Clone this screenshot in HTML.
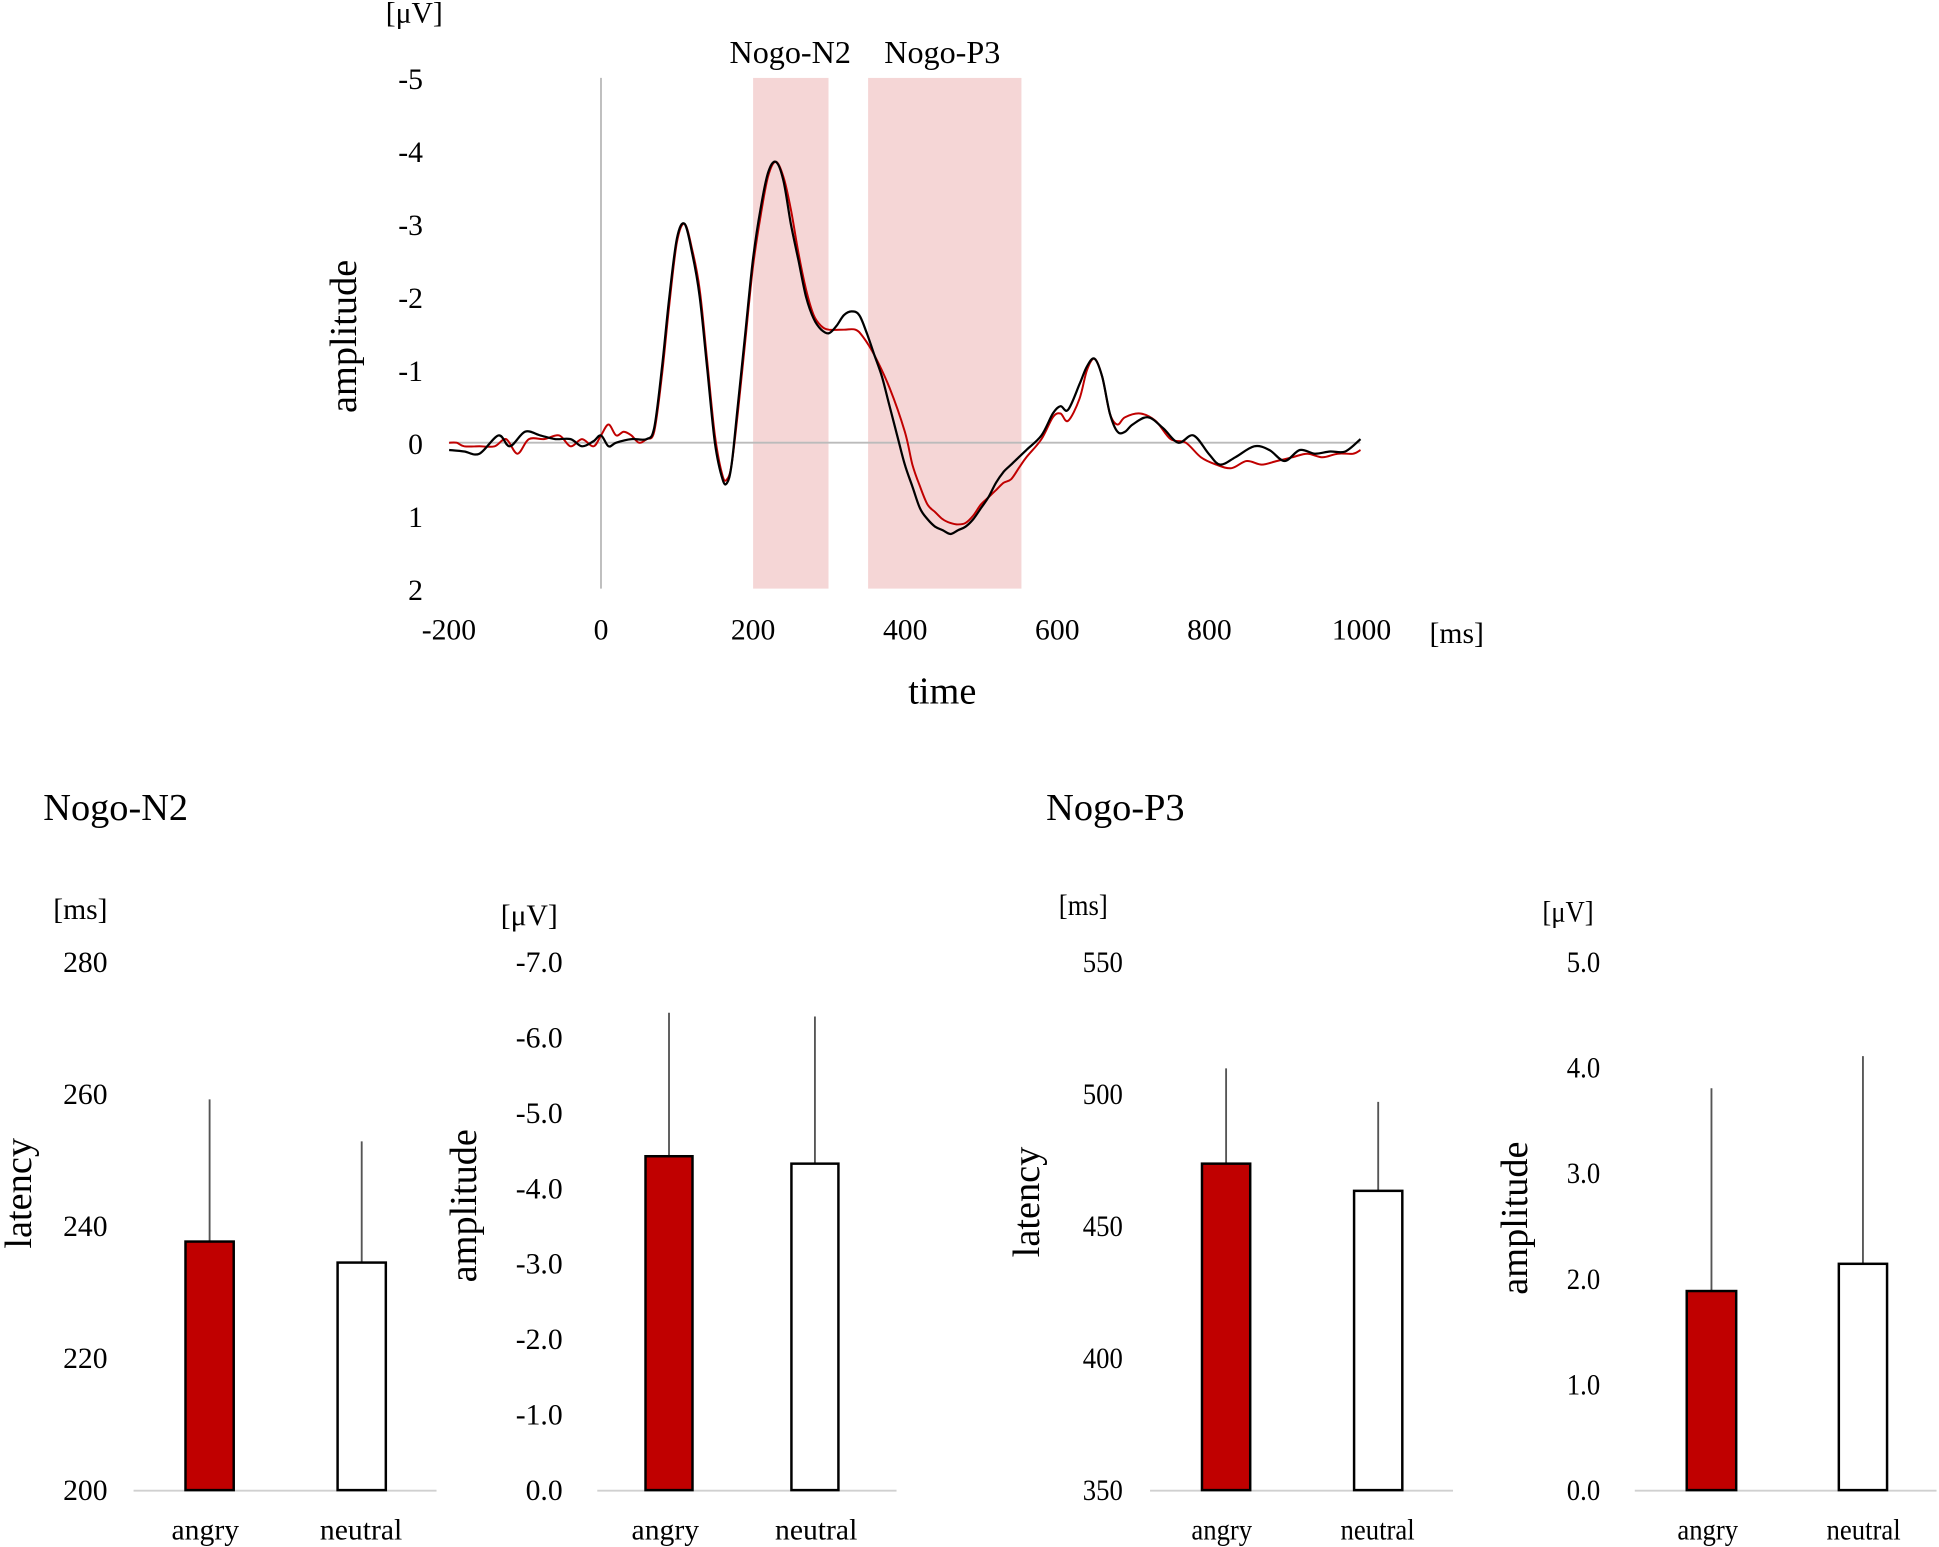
<!DOCTYPE html>
<html><head><meta charset="utf-8"><style>
html,body{margin:0;padding:0;background:#fff;}
svg{display:block;font-family:"Liberation Serif",serif;}
</style></head><body>
<svg id="s" width="1939" height="1547" viewBox="0 0 1568 1251" xmlns="http://www.w3.org/2000/svg">
<rect x="609" y="63" width="61" height="413" fill="#f5d6d6"/>
<rect x="702" y="63" width="124" height="413" fill="#f5d6d6"/>
<line x1="486" y1="63" x2="486" y2="476" stroke="#bbb" stroke-width="1.5"/>
<line x1="363" y1="358" x2="1100" y2="358" stroke="#bbb" stroke-width="1.5"/>
<g font-size="24" text-anchor="end">
<text x="342" y="72">-5</text><text x="342" y="131">-4</text><text x="342" y="190">-3</text>
<text x="342" y="249">-2</text><text x="342" y="308">-1</text><text x="342" y="367">0</text>
<text x="342" y="426">1</text><text x="342" y="485">2</text>
</g>
<g font-size="24" text-anchor="middle">
<text x="363" y="517">-200</text><text x="486" y="517">0</text><text x="609" y="517">200</text>
<text x="732" y="517">400</text><text x="855" y="517">600</text><text x="978" y="517">800</text>
<text x="1101" y="517">1000</text>
</g>
<text x="1178" y="520" font-size="24" text-anchor="middle">[ms]</text>
<text x="335" y="18" font-size="24" text-anchor="middle">[μV]</text>
<text x="762" y="569" font-size="31" text-anchor="middle">time</text>
<text transform="translate(288,272) rotate(-90)" font-size="31" text-anchor="middle">amplitude</text>
<text x="639" y="51" font-size="26" text-anchor="middle">Nogo-N2</text>
<text x="762" y="51" font-size="26" text-anchor="middle">Nogo-P3</text>
<path id="red" fill="none" stroke="#c00000" stroke-width="1.6"/>
<path id="blk" fill="none" stroke="#000" stroke-width="1.8"/>

<text x="35" y="663" font-size="31">Nogo-N2</text>
<text x="846" y="663" font-size="31">Nogo-P3</text>

<g id="bars"></g>
</svg>
<script>
function X(t){return 486+t*0.6142;}function Y(v){return 358+v*59;}
function path(pts){var p=pts.map(function(a){return [X(a[0]),Y(a[1])];});
var d="M"+p[0][0].toFixed(1)+","+p[0][1].toFixed(1);
for(var i=0;i<p.length-1;i++){var p0=p[i-1]||p[i],p1=p[i],p2=p[i+1],p3=p[i+2]||p2;
var c1x=p1[0]+(p2[0]-p0[0])/6,c1y=p1[1]+(p2[1]-p0[1])/6,c2x=p2[0]-(p3[0]-p1[0])/6,c2y=p2[1]-(p3[1]-p1[1])/6;
d+=" C"+c1x.toFixed(1)+","+c1y.toFixed(1)+" "+c2x.toFixed(1)+","+c2y.toFixed(1)+" "+p2[0].toFixed(1)+","+p2[1].toFixed(1);}
return d;}
var blk=[[-200,0.1],[-180,0.12],[-160,0.15],[-135,-0.1],[-120,0.05],[-100,-0.15],[-80,-0.1],[-60,-0.05],[-40,-0.05],[-25,0.05],[-10,-0.02],[0,-0.1],[10,0.05],[20,0.0],[40,-0.05],[60,-0.05],[70,-0.2],[80,-1],[90,-2],[100,-2.8],[110,-3.0],[120,-2.6],[130,-2.0],[140,-1.0],[150,0.0],[160,0.5],[166,0.55],[172,0.3],[180,-0.5],[190,-1.5],[200,-2.5],[210,-3.2],[220,-3.7],[230,-3.85],[240,-3.6],[250,-3.0],[260,-2.5],[270,-2.0],[280,-1.7],[290,-1.55],[300,-1.5],[310,-1.6],[320,-1.75],[330,-1.8],[340,-1.75],[350,-1.5],[360,-1.2],[370,-0.9],[380,-0.5],[390,-0.1],[400,0.3],[410,0.6],[420,0.9],[430,1.05],[440,1.15],[450,1.2],[460,1.25],[470,1.2],[480,1.15],[490,1.05],[500,0.9],[510,0.75],[520,0.55],[530,0.4],[540,0.3],[550,0.2],[560,0.1],[580,-0.1],[595,-0.4],[605,-0.5],[615,-0.45],[630,-0.8],[640,-1.05],[650,-1.15],[660,-0.9],[670,-0.4],[680,-0.15],[690,-0.15],[700,-0.25],[720,-0.35],[740,-0.2],[760,0.0],[780,-0.1],[800,0.15],[815,0.3],[835,0.2],[860,0.05],[880,0.1],[900,0.25],[920,0.1],[940,0.15],[960,0.12],[980,0.12],[1000,-0.05]];
var red=[[-200,0.0],[-190,0.0],[-180,0.05],[-160,0.05],[-140,0.05],[-125,-0.05],[-110,0.15],[-95,-0.05],[-75,-0.05],[-55,-0.1],[-40,0.05],[-25,-0.05],[-10,0.05],[0,-0.1],[10,-0.25],[20,-0.1],[30,-0.15],[40,-0.1],[50,0.0],[60,-0.05],[70,-0.15],[80,-0.9],[90,-1.9],[100,-2.75],[110,-3.0],[120,-2.65],[130,-2.1],[140,-1.1],[150,-0.1],[160,0.45],[166,0.5],[172,0.3],[180,-0.4],[190,-1.4],[200,-2.4],[210,-3.1],[220,-3.65],[230,-3.85],[240,-3.65],[250,-3.2],[260,-2.6],[270,-2.1],[280,-1.75],[290,-1.6],[300,-1.55],[320,-1.55],[335,-1.55],[345,-1.45],[360,-1.2],[380,-0.75],[400,-0.15],[410,0.3],[420,0.6],[430,0.85],[440,0.95],[450,1.05],[460,1.1],[470,1.12],[480,1.1],[490,1.0],[500,0.85],[510,0.75],[520,0.65],[530,0.55],[540,0.5],[550,0.35],[560,0.2],[580,-0.05],[595,-0.35],[605,-0.4],[615,-0.3],[630,-0.6],[640,-1.0],[650,-1.15],[660,-0.9],[670,-0.4],[680,-0.25],[690,-0.35],[710,-0.4],[730,-0.3],[750,-0.05],[770,0.0],[790,0.2],[810,0.3],[830,0.35],[850,0.25],[870,0.3],[890,0.25],[910,0.2],[930,0.15],[950,0.2],[970,0.15],[990,0.15],[1000,0.1]];
document.getElementById('red').setAttribute('d',path(red));
document.getElementById('blk').setAttribute('d',path(blk));
var panels=[
{lx:87,bx0:108,bx1:353,ticks:['280','260','240','220','200'],unit:'[ms]',ux:65,uy:743,ylab:'latency',ylx:25,yly:965,
 bars:[[150,189,1004,889,'#c00000'],[273,312,1021,923,'#fff']],cx:[166,292],sx:1},
{lx:455,bx0:483,bx1:725,ticks:['-7.0','-6.0','-5.0','-4.0','-3.0','-2.0','-1.0','0.0'],unit:'[μV]',ux:428,uy:748,ylab:'amplitude',ylx:385,yly:975,
 bars:[[522,560,935,819,'#c00000'],[640,678,941,822,'#fff']],cx:[538,660],sx:1},
{lx:908,bx0:930,bx1:1175,ticks:['550','500','450','400','350'],unit:'[ms]',ux:876,uy:740,ylab:'latency',ylx:840,yly:972,
 bars:[[972,1011,941,864,'#c00000'],[1095,1134,963,891,'#fff']],cx:[988,1114],sx:0.9},
{lx:1294,bx0:1322,bx1:1566,ticks:['5.0','4.0','3.0','2.0','1.0','0.0'],unit:'[μV]',ux:1268,uy:745,ylab:'amplitude',ylx:1235,yly:985,
 bars:[[1364,1404,1044,880,'#c00000'],[1487,1526,1022,854,'#fff']],cx:[1381,1507],sx:0.9}];
var h='';
panels.forEach(function(P){
 var n=P.ticks.length;
 P.ticks.forEach(function(t,i){var y=778+(1205-778)*i/(n-1);
  h+='<text font-size="24" text-anchor="end" transform="translate('+P.lx+','+(y+8)+') scale('+P.sx+',1)">'+t+'</text>';});
 h+='<line x1="'+P.bx0+'" y1="1205.5" x2="'+P.bx1+'" y2="1205.5" stroke="#d0d0d0" stroke-width="1.5"/>';
 P.bars.forEach(function(b){
  h+='<line x1="'+((b[0]+b[1])/2)+'" y1="'+b[3]+'" x2="'+((b[0]+b[1])/2)+'" y2="'+b[2]+'" stroke="#555" stroke-width="1.5"/>';
  h+='<rect x="'+b[0]+'" y="'+b[2]+'" width="'+(b[1]-b[0])+'" height="'+(1205-b[2])+'" fill="'+b[4]+'" stroke="#000" stroke-width="2"/>';});
 h+='<text font-size="24" text-anchor="middle" transform="translate('+P.cx[0]+',1245) scale('+P.sx+',1)">angry</text>';
 h+='<text font-size="24" text-anchor="middle" transform="translate('+P.cx[1]+',1245) scale('+P.sx+',1)">neutral</text>';
 h+='<text font-size="24" text-anchor="middle" transform="translate('+P.ux+','+P.uy+') scale('+P.sx+',1)">'+P.unit+'</text>';
 h+='<text font-size="31" text-anchor="middle" transform="translate('+P.ylx+','+P.yly+') rotate(-90)">'+P.ylab+'</text>';
});
document.getElementById('bars').innerHTML=h;
</script>
</body></html>
